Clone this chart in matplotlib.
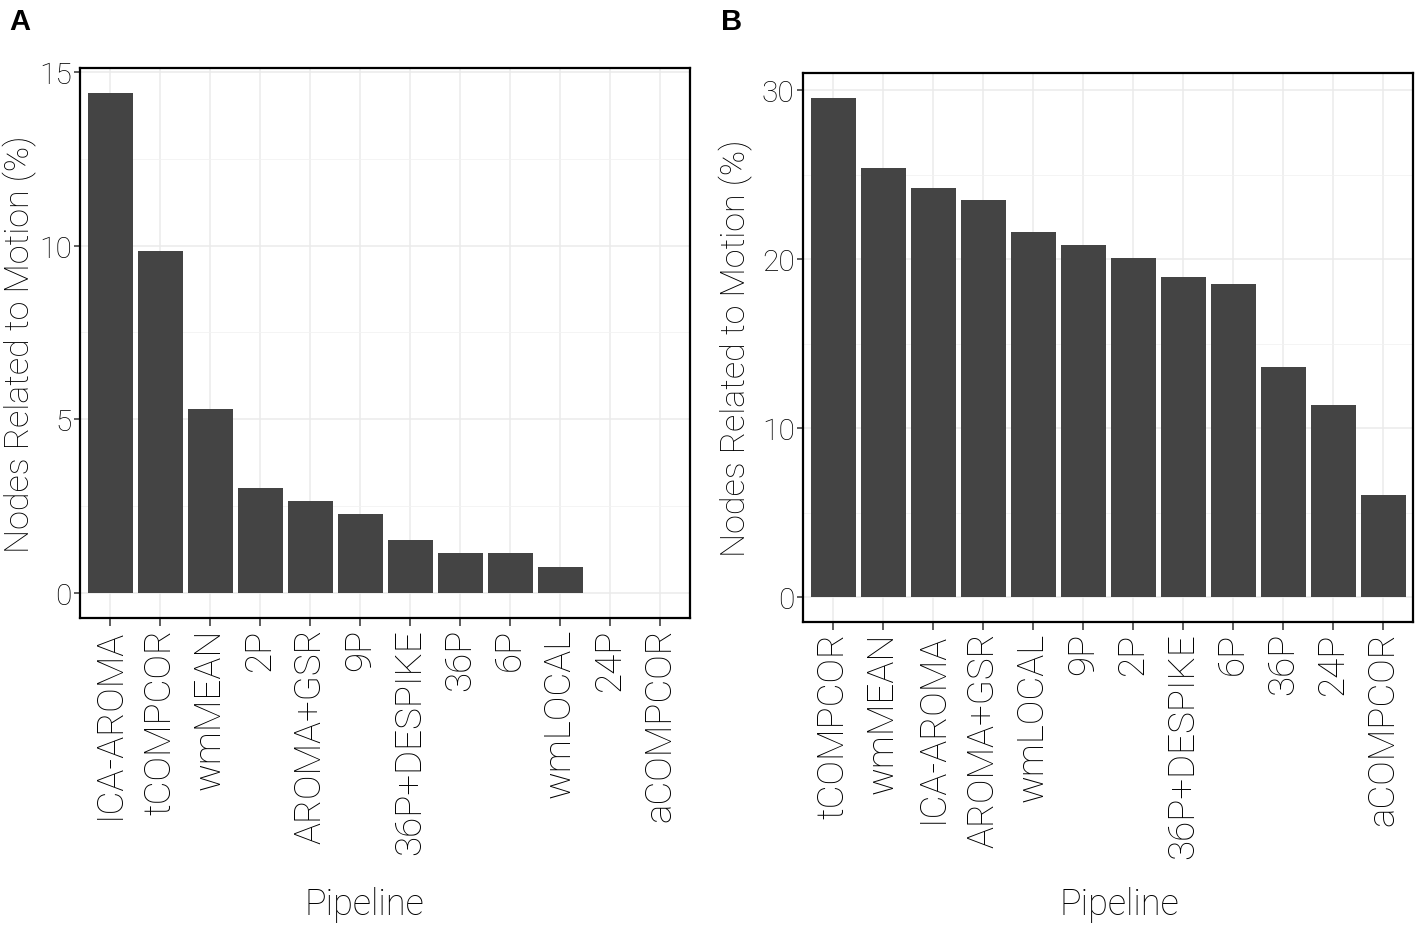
import matplotlib
matplotlib.use("Agg")
import matplotlib.pyplot as plt
from matplotlib.ticker import MultipleLocator
import numpy as np

plt.rcParams['font.family'] = ['Roboto', 'DejaVu Sans']

pipelines_a = ["ICA-AROMA", "tCOMPCOR", "wmMEAN", "2P", "AROMA+GSR", "9P",
               "36P+DESPIKE", "36P", "6P", "wmLOCAL", "24P", "aCOMPCOR"]
values_a = [14.39, 9.85, 5.30, 3.03, 2.65, 2.27, 1.52, 1.14, 1.14, 0.76, 0.0, 0.0]

pipelines_b = ["tCOMPCOR", "wmMEAN", "ICA-AROMA", "AROMA+GSR", "wmLOCAL", "9P",
               "2P", "36P+DESPIKE", "6P", "36P", "24P", "aCOMPCOR"]
values_b = [29.55, 25.38, 24.24, 23.48, 21.59, 20.83, 20.08, 18.94, 18.56, 13.64, 11.36, 6.06]

y_label = "Nodes Related to Motion (%)"
x_label = "Pipeline"

W, H = 1419, 929
fig = plt.figure(figsize=(W / 100, H / 100), dpi=100)

def make_ax(left, top, right, bottom):
    return fig.add_axes([left / W, 1 - bottom / H, (right - left) / W, (bottom - top) / H])

boxes = {"A": (80, 69, 690, 619), "B": (803, 74, 1413, 623)}
ax_a = make_ax(*boxes["A"])
ax_b = make_ax(*boxes["B"])

FS_X = 26.5
FS_Y = 21.5
FS_T = 24.5
FS_XT = 26
LW = "light"

def style(ax, box, cats, vals, major, minor, ylab_x, xlab_x, xlab_y):
    left, top, right, bottom = box
    w, h = right - left, bottom - top
    x = np.arange(len(cats))
    ax.set_axisbelow(True)
    ax.bar(x, vals, width=0.9, color="#444444", edgecolor="none", zorder=2)
    vmax = max(vals)
    ax.set_xlim(-0.6, len(cats) - 1 + 0.6)
    ax.set_ylim(-0.05 * vmax, vmax * 1.05)
    ax.set_xticks(x)
    ax.set_xticklabels(cats, rotation=90, fontsize=FS_X, fontweight=LW, ha="center", va="top",
                       color="black")
    ax.yaxis.set_major_locator(MultipleLocator(major))
    ax.yaxis.set_minor_locator(MultipleLocator(minor))
    for lab in ax.get_yticklabels():
        lab.set_fontsize(FS_Y)
        lab.set_fontweight(LW)
        lab.set_color("black")
    ax.grid(True, which="major", color="#ebebeb", linewidth=1.1)
    ax.grid(True, which="minor", axis="y", color="#f2f2f2", linewidth=0.6)
    ax.tick_params(axis="x", which="major", length=6, width=1.1, color="#333333", pad=1)
    ax.tick_params(axis="y", which="major", length=4.5, width=1.1, color="#333333", pad=1.5)
    ax.tick_params(axis="y", which="minor", length=0)
    for s in ax.spines.values():
        s.set_linewidth(1.6)
        s.set_color("black")
    ax.set_ylabel(y_label, fontsize=FS_T, fontweight=LW, color="black", va="center", ha="center")
    ax.yaxis.set_label_coords((ylab_x - left) / w, 0.5)
    ax.set_xlabel(x_label, fontsize=FS_XT, fontweight=LW, color="black", va="center", ha="center")
    ax.xaxis.set_label_coords((xlab_x - left) / w, -(xlab_y - bottom) / h)

style(ax_a, boxes["A"], pipelines_a, values_a, 5, 2.5, 20.2, 364, 905)
style(ax_b, boxes["B"], pipelines_b, values_b, 10, 5, 736, 1119, 905)

fig.text(9 / W, 1 - 22 / H, "A", fontsize=21, fontweight="bold", va="center", ha="left",
         family=["Liberation Sans", "DejaVu Sans"])
fig.text(721 / W, 1 - 22 / H, "B", fontsize=21, fontweight="bold", va="center", ha="left",
         family=["Liberation Sans", "DejaVu Sans"])

fig.savefig("out.png", dpi=100, facecolor="white")
